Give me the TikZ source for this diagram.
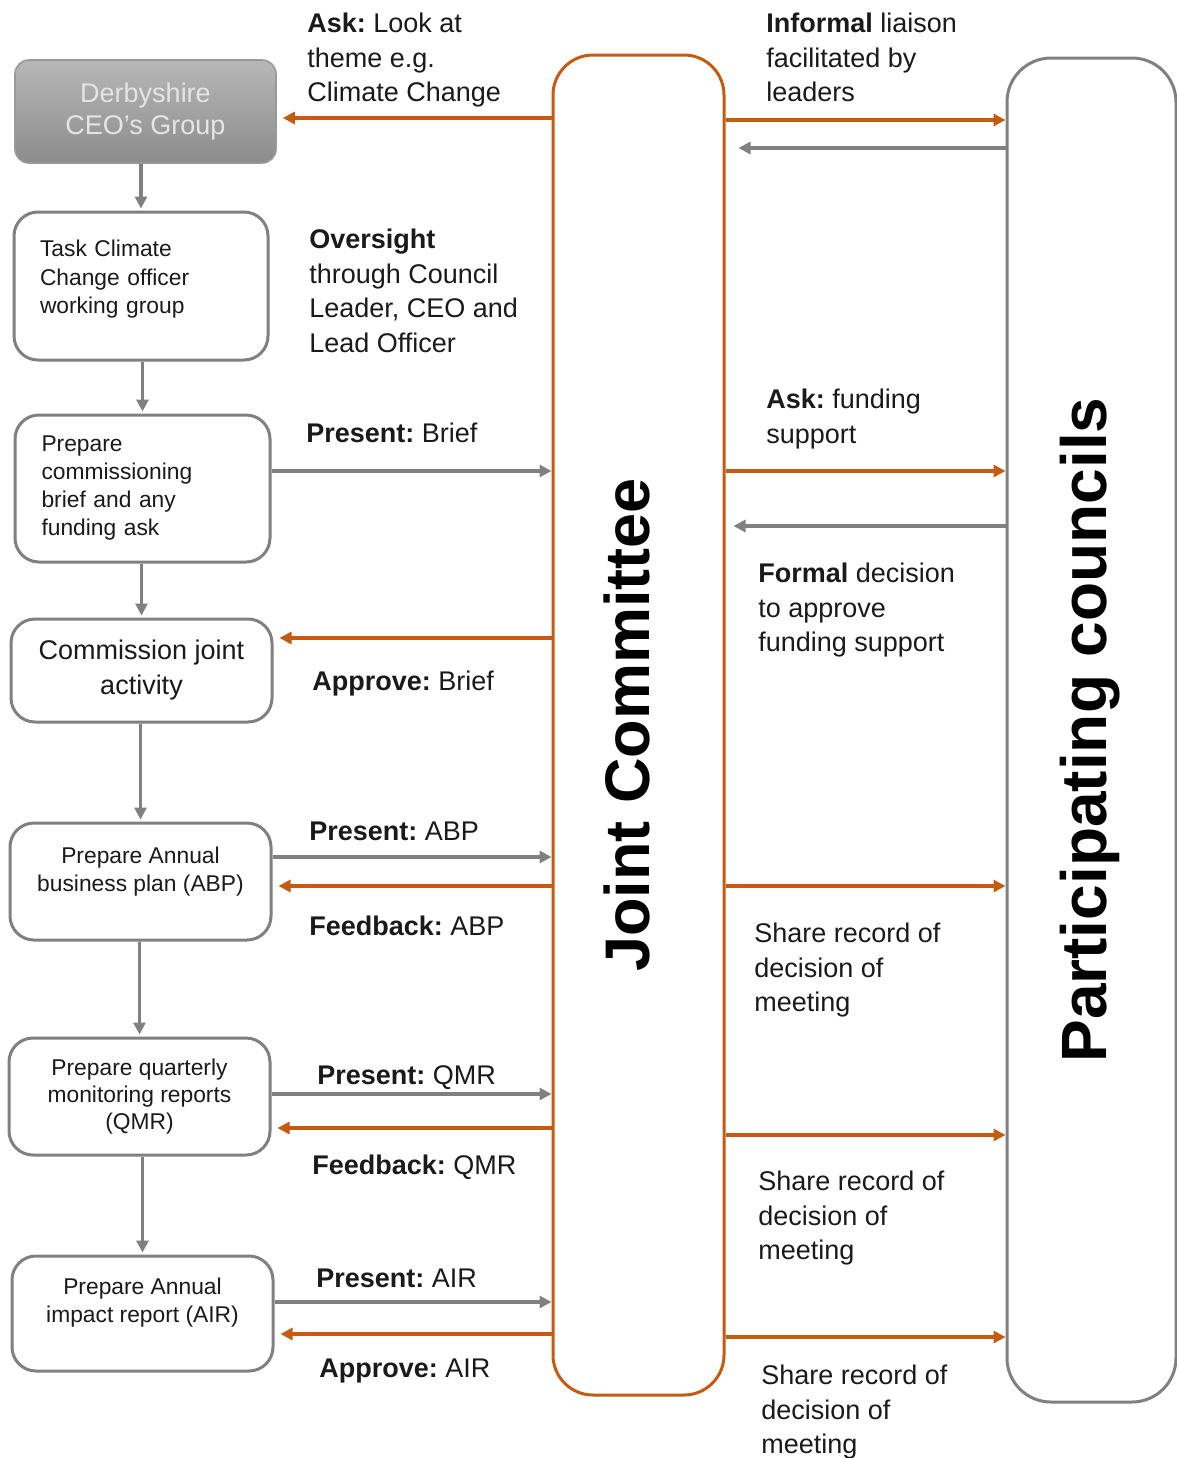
\documentclass[tikz,border=0pt]{standalone}
\usepackage{fontspec}
\setmainfont{Liberation Sans}
\usepackage{tikz}
\usetikzlibrary{arrows.meta,calc}
\definecolor{jcorange}{HTML}{C55A11}
\definecolor{midgray}{HTML}{808080}
\definecolor{inkblack}{HTML}{1A1A1A}
\frenchspacing
\tikzset{>={Triangle[length=6pt,width=6pt]}}
\tikzset{
  stepbox/.style={draw=midgray, line width=1.5pt, rounded corners=12pt, fill=white,
    text=inkblack, font=\fontsize{11.4}{14.2}\selectfont, align=center,
    minimum width=130.5pt},
  ceobox/.style={draw=black!40, line width=0.8pt, rounded corners=7pt,
    top color=black!28, bottom color=black!45, text=white!90!black,
    font=\fontsize{13.5}{16}\selectfont, align=center},
  lbl/.style={anchor=north west, inner sep=0pt, align=left, text=inkblack,
    font=\fontsize{13.5}{17.25}\selectfont},
  orarrow/.style={->, draw=jcorange, line width=1.6pt},
  grarrow/.style={->, draw=midgray, line width=1.6pt},
}

\begin{document}
\begin{tikzpicture}[line join=round,x=0.5pt,y=-0.5pt]
	\useasboundingbox (0,0) rectangle (1177,1458);
	% left column
	\node[ceobox, minimum width=130.5pt, minimum height=51.5pt] (ceo) at (145.5,111.5) {Derbyshire\\CEO's Group};
	\node[stepbox, minimum width=127pt, minimum height=74pt, align=left, text width=101pt, inner xsep=13pt] (task) at (141,286) {Task Climate\\Change officer\\working group\\[-5.2pt]\mbox{}};
	\node[stepbox, minimum width=127.5pt, minimum height=73.5pt, align=left, text width=101pt, inner xsep=13pt, font=\fontsize{11.4}{14}\selectfont] (brief) at (142.5,488.5) {Prepare\\commissioning\\brief and any\\funding ask};
	\node[stepbox, minimum height=51.5pt, font=\fontsize{13.5}{17.5}\selectfont] (commission) at (141.5,670.5) {Commission joint\\activity};
	\node[stepbox, minimum height=58.5pt] (abp) at (140.5,881.5) {Prepare Annual\\business plan (ABP)\\[-2pt]};
	\node[stepbox, minimum height=58.5pt, font=\fontsize{11.4}{13.6}\selectfont] (qmr) at (139.5,1096.5) {Prepare quarterly\\monitoring reports\\(QMR)};
	\node[stepbox, minimum height=57.5pt] (air) at (142.5,1313.5) {Prepare Annual\\impact report (AIR)\\[-1.2pt]};
	% the two committees
	\node[draw=jcorange, line width=1.5pt, rounded corners=20pt, minimum width=85.5pt, minimum height=670pt] (jc) at (638.5,725) {};
	\node[rotate=90, inner sep=0pt, text=black, font=\fontsize{31.5}{36}\selectfont\bfseries] (jctext) at (627,725) {Joint Committee};
	\node[draw=midgray, line width=1.5pt, rounded corners=22pt, minimum width=84.5pt, minimum height=672pt] (pc) at (1091.5,730) {};
	\node[rotate=90, inner sep=0pt, text=black, font=\fontsize{32}{37}\selectfont\bfseries] (pctext) at (1090,730) {Participating councils};
	% down the left
	\foreach \a/\b in {ceo/task,task/brief,brief/commission,commission/abp,abp/qmr,qmr/air}
	\draw[grarrow, shorten >=1pt] (\b.north |- \a.south) -- (\b.north);
	\foreach \b/\y in {brief/471,abp/857,qmr/1094,air/1302}
	\draw[grarrow] (\b.east |- 0,\y) -- (jc.west |- 0,\y);
	\foreach \b/\y in {ceo/118,commission/638,abp/886,qmr/1128,air/1334}
	\draw[orarrow, shorten >=3pt] (jc.west |- 0,\y) -- (\b.east |- 0,\y);
	% to and from the councils
	\foreach \y in {120,471,886,1135,1337}
	\draw[orarrow] (jc.east |- 0,\y) -- (pc.west |- 0,\y);
	\draw[grarrow, shorten >=6.5pt] (pc.west |- 0,148) -- (jc.east |- 0,148);
	\draw[grarrow, shorten >=4pt] (pc.west |- 0,526) -- (jc.east |- 0,526);
	% labels
	\node[lbl] (askl) at (307,13) {\textbf{Ask:} Look at\\theme e.g.\\Climate Change};
	\node[lbl] (oversightl) at (309,229) {\textbf{Oversight}\\through Council\\Leader, CEO and\\Lead Officer};
	\node[lbl] (presbriefl) at (306,423) {\textbf{Present:} Brief};
	\node[lbl] (apprbriefl) at (312,671) {\textbf{Approve:} Brief};
	\node[lbl] (presabpl) at (309,822) {\textbf{Present:} ABP};
	\node[lbl] (feedabpl) at (309,916) {\textbf{Feedback:} ABP};
	\node[lbl] (presqmrl) at (317,1065) {\textbf{Present:} QMR};
	\node[lbl] (feedqmrl) at (312,1155) {\textbf{Feedback:} QMR};
	\node[lbl] (presairl) at (316,1269) {\textbf{Present:} AIR};
	\node[lbl] (apprairl) at (319,1359) {\textbf{Approve:} AIR};
	\node[lbl] (informall) at (766,13) {\textbf{Informal} liaison\\facilitated by\\leaders};
	\node[lbl] (askfundl) at (766,389) {\textbf{Ask:} funding\\support};
	\node[lbl] (formall) at (758,563) {\textbf{Formal} decision\\to approve\\funding support};
	\node[lbl] (sharea) at (754,923) {Share record of\\decision of\\meeting};
	\node[lbl] (shareb) at (758,1171) {Share record of\\decision of\\meeting};
	\node[lbl] (sharec) at (761,1365) {Share record of\\decision of\\meeting};
\end{tikzpicture}
\end{document}
